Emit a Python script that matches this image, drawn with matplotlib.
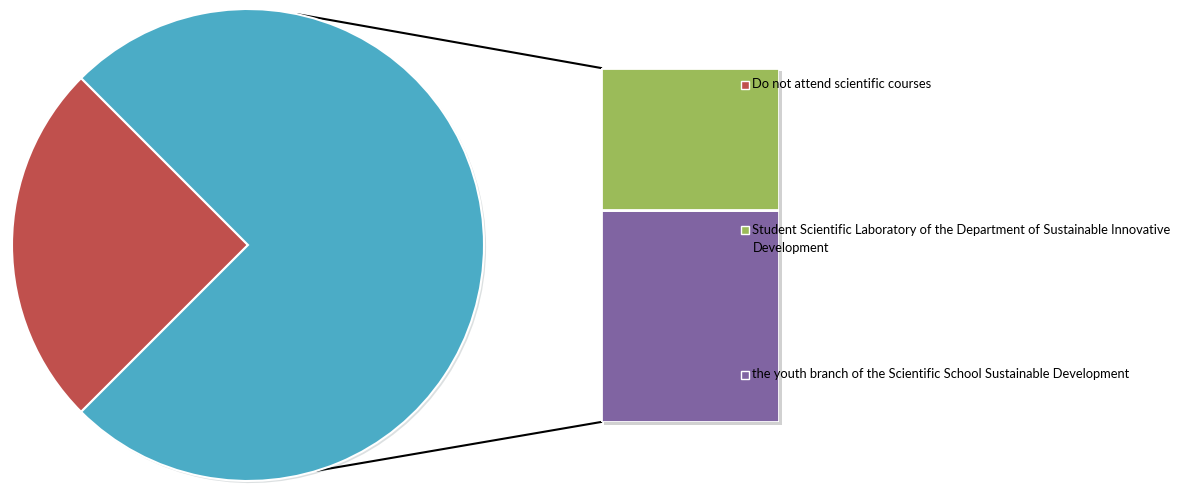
import matplotlib
matplotlib.use("Agg")
import matplotlib.pyplot as plt
import matplotlib.patheffects as pe
from matplotlib.patches import Rectangle
import numpy as np

# data (percent of students)
labels = ["Do not attend scientific courses",
          "Student Scientific Laboratory of the Department of Sustainable Innovative\nDevelopment",
          "the youth branch of the Scientific School Sustainable Development"]
values = [25, 30, 45]
colors = ["#C0504D", "#9BBB59", "#8064A2"]
other_color = "#4BACC6"

W, H = 1187, 484
fig = plt.figure(figsize=(W / 100, H / 100), dpi=100)
ax = fig.add_axes([0, 0, 1, 1])

# pie: first slice + combined "other" (goes to the bar)
pie_vals = [values[0], sum(values[1:])]
cx, cy, r = 248, H - 245, 236
ax.pie(pie_vals, colors=[colors[0], other_color], startangle=135, counterclock=True,
       center=(cx, cy), radius=r,
       wedgeprops=dict(edgecolor="white", linewidth=1.5,
                       path_effects=[pe.SimplePatchShadow(offset=(1.5, -1.5), alpha=0.15), pe.Normal()]))
ax.set_aspect("auto")
ax.set_xlim(0, W)
ax.set_ylim(0, H)
ax.axis("off")

# bar position in pixels
bx0, bx1, by_top, by_bot = 601, 779, 68, 422

# connector lines
for ang, (px, py) in [(78, (bx0, H - by_top)), (-73, (bx0, H - by_bot))]:
    a = np.deg2rad(ang)
    ax.plot([cx + r * np.cos(a), px], [cy + r * np.sin(a), py], color="black", lw=1.5, zorder=0)

# bar shadow
ax.add_patch(Rectangle((bx0 + 3, H - by_bot - 3), bx1 - bx0, by_bot - by_top,
                       facecolor="black", alpha=0.18, lw=0, zorder=1))

# bar of pie
bax = fig.add_axes([bx0 / W, (H - by_bot) / H, (bx1 - bx0) / W, (by_bot - by_top) / H])
bottom = 0
for v, c in zip(values[:0:-1], colors[:0:-1]):
    bax.bar(0, v, bottom=bottom, width=1, color=c, edgecolor="white", linewidth=2)
    bottom += v
bax.set_xlim(-0.5, 0.5)
bax.set_ylim(0, sum(values[1:]))
bax.axis("off")

# legend entries (overlay axes so they sit above the bar)
lax = fig.add_axes([0, 0, 1, 1])
lax.set_xlim(0, W)
lax.set_ylim(0, H)
lax.axis("off")
ys = [85, 230, 375]
for lab, c, y in zip(labels, colors, ys):
    lax.add_patch(Rectangle((741, H - y - 4), 8, 8, facecolor=c, edgecolor="white", lw=1))
    lax.text(752.5, H - y + 6.5, lab, family="Lato", fontsize=9.3, va="top", ha="left",
             linespacing=1.65, color="black")

fig.savefig("out.png", dpi=100)
